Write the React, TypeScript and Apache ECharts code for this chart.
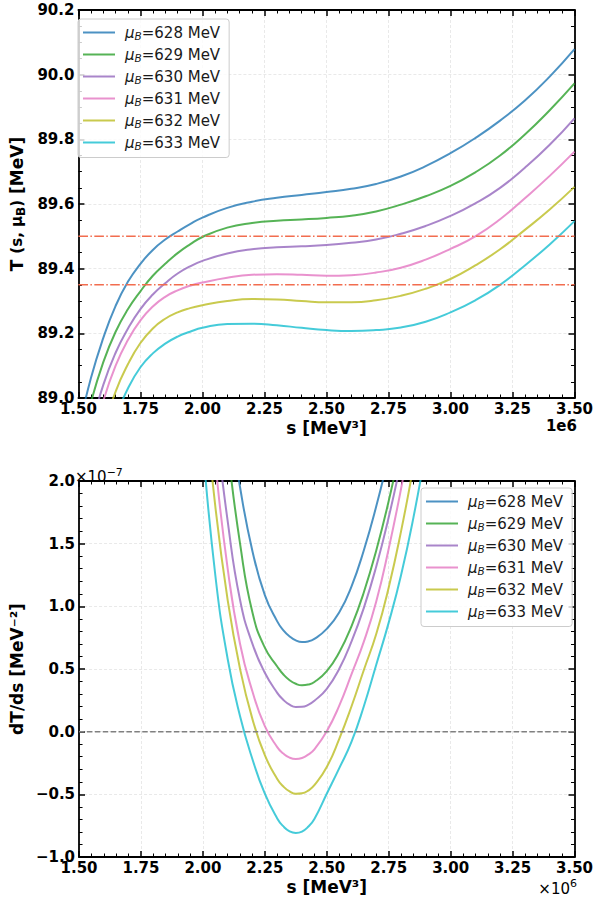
import React, { useEffect, useRef } from "react";
import * as echarts from "echarts";

// ---------- data ----------
const MU_B = [628, 629, 630, 631, 632, 633];

// s in units of 1e6 MeV^3
const S_T = [1.5, 1.55, 1.6, 1.65, 1.7, 1.75, 1.8, 1.85, 1.9, 1.95, 2.0, 2.1, 2.2, 2.3, 2.4, 2.5, 2.6, 2.7, 2.8, 2.9, 3.0, 3.1, 3.2, 3.3, 3.4, 3.5];
const T_628 = [88.9, 89.06, 89.185, 89.285, 89.36, 89.415, 89.458, 89.49, 89.515, 89.538, 89.558, 89.588, 89.607, 89.619, 89.628, 89.637, 89.647, 89.662, 89.685, 89.717, 89.757, 89.804, 89.858, 89.92, 89.994, 90.079];
const T_629 = [88.82, 88.985, 89.11, 89.205, 89.275, 89.33, 89.378, 89.415, 89.448, 89.475, 89.498, 89.527, 89.541, 89.548, 89.552, 89.557, 89.564, 89.577, 89.598, 89.624, 89.656, 89.698, 89.75, 89.815, 89.89, 89.973];
const T_630 = [88.76, 88.905, 89.04, 89.14, 89.215, 89.275, 89.32, 89.355, 89.385, 89.407, 89.424, 89.447, 89.46, 89.466, 89.469, 89.473, 89.48, 89.49, 89.508, 89.532, 89.563, 89.602, 89.65, 89.712, 89.783, 89.865];
const T_631 = [88.68, 88.845, 88.99, 89.1, 89.18, 89.24, 89.283, 89.313, 89.333, 89.347, 89.357, 89.372, 89.381, 89.383, 89.381, 89.378, 89.38, 89.388, 89.403, 89.428, 89.461, 89.5, 89.553, 89.618, 89.687, 89.762];
const T_632 = [88.58, 88.76, 88.9, 89.02, 89.105, 89.17, 89.215, 89.245, 89.265, 89.278, 89.287, 89.3, 89.306, 89.305, 89.3, 89.296, 89.296, 89.302, 89.316, 89.338, 89.368, 89.41, 89.46, 89.52, 89.583, 89.653];
const T_633 = [88.5, 88.69, 88.83, 88.94, 89.03, 89.095, 89.138, 89.168, 89.19, 89.205, 89.217, 89.229, 89.23, 89.225, 89.217, 89.21, 89.207, 89.21, 89.218, 89.236, 89.265, 89.302, 89.35, 89.41, 89.475, 89.547];
const T_SERIES = [T_628, T_629, T_630, T_631, T_632, T_633];
const T_LEVELS = [89.5, 89.35];

// dT/ds in units of 1e-7 MeV^-2
const S_D = [2.0, 2.05, 2.1, 2.15, 2.2, 2.25, 2.3, 2.325, 2.35, 2.375, 2.4, 2.425, 2.45, 2.5, 2.55, 2.6, 2.65, 2.7, 2.75, 2.8, 2.85, 2.9, 2.95];
const D_628 = [4.0, 3.3, 2.6, 1.95, 1.44, 1.09, 0.88, 0.809, 0.76, 0.728, 0.715, 0.72, 0.74, 0.82, 0.95, 1.16, 1.45, 1.8, 2.2, 2.63, 3.1, 3.6, 4.1];
const D_629 = [3.9, 3.05, 2.25, 1.5, 0.95, 0.67, 0.52, 0.456, 0.41, 0.382, 0.37, 0.376, 0.396, 0.483, 0.632, 0.843, 1.114, 1.448, 1.84, 2.3, 2.82, 3.4, 4.0];
const D_630 = [3.5, 2.5, 1.68, 1.05, 0.7, 0.47, 0.31, 0.253, 0.215, 0.197, 0.198, 0.214, 0.247, 0.342, 0.5, 0.72, 0.99, 1.32, 1.71, 2.16, 2.65, 3.15, 3.7];
const D_631 = [3.2, 2.15, 1.3, 0.7, 0.32, 0.044, -0.123, -0.175, -0.207, -0.218, -0.21, -0.183, -0.141, 0.003, 0.206, 0.459, 0.72, 1.04, 1.46, 1.94, 2.48, 3.08, 3.7];
const D_632 = [2.8, 1.8, 1.05, 0.5, 0.1, -0.188, -0.377, -0.438, -0.477, -0.496, -0.492, -0.47, -0.427, -0.282, -0.059, 0.203, 0.494, 0.781, 1.15, 1.6, 2.12, 2.68, 3.3];
const D_633 = [2.28, 1.25, 0.58, 0.123, -0.22, -0.495, -0.692, -0.756, -0.795, -0.808, -0.797, -0.759, -0.696, -0.495, -0.293, -0.08, 0.205, 0.536, 0.87, 1.25, 1.71, 2.25, 2.88];
const D_SERIES = [D_628, D_629, D_630, D_631, D_632, D_633];
const D_ZERO = 0;

const X_MIN = 1.5;
const X_MAX = 3.5;
const X_STEP = 0.25;
const T_MIN = 89.0;
const T_MAX = 90.2;
const T_STEP = 0.2;
const D_MIN = -1.0;
const D_MAX = 2.0;
const D_STEP = 0.5;

// ---------- styles ----------
const COLORS = [
  "rgba(31,119,180,0.8)",
  "rgba(44,160,44,0.8)",
  "rgba(148,103,189,0.8)",
  "rgba(227,119,194,0.8)",
  "rgba(188,189,34,0.8)",
  "rgba(23,190,207,0.8)",
];
const FONT = "DejaVu Sans";

const frameLine = { show: true, onZero: false, lineStyle: { color: "#000", width: 1.8 } };
const majorTick = { show: true, inside: true, length: 6, lineStyle: { color: "#000", width: 1.5 } };
const minorTick = (n: number) => ({ show: true, splitNumber: n, length: 3.5, lineStyle: { color: "#000", width: 1 } });
const gridLine = { show: true, lineStyle: { color: "#e3e3e3", width: 0.8, type: [3, 2] } };
const tickLabel = (fmt: (v: number) => string, margin: number) => ({
  show: true,
  margin,
  formatter: fmt,
  fontFamily: FONT,
  fontWeight: "bold",
  fontSize: 15,
  color: "#000",
});
const nameStyle = { fontFamily: FONT, fontWeight: "bold", fontSize: 17, color: "#000" };

const fmtMinus = (v: number, d: number) => {
  const s = Math.abs(v).toFixed(d);
  return v < -1e-9 ? "\u2212" + s : s;
};

const legendRich = {
  mu: { fontFamily: FONT, fontSize: 15, fontStyle: "italic", color: "#1a1a1a", lineHeight: 18, padding: [0, 0, 0, 5] },
  sub: { fontFamily: FONT, fontSize: 10.5, fontStyle: "italic", color: "#1a1a1a", lineHeight: 11, verticalAlign: "bottom" },
  t: { fontFamily: FONT, fontSize: 15, color: "#1a1a1a", lineHeight: 18 },
};

const makeLegend = (left: number, top: number) => ({
  show: true,
  orient: "vertical",
  left,
  top,
  data: MU_B.map(String),
  icon: "rect",
  itemWidth: 32,
  itemHeight: 2,
  itemGap: 5.5,
  padding: [6, 9, 6, 5],
  backgroundColor: "rgba(255,255,255,0.8)",
  borderColor: "#cccccc",
  borderWidth: 1,
  borderRadius: 3,
  selectedMode: false,
  formatter: (name: string) => `{mu|μ}{sub|B}{t|=${name} MeV}`,
  textStyle: { rich: legendRich },
});

export default function App() {
  const ref = useRef<HTMLDivElement>(null);

  useEffect(() => {
    if (!ref.current) return;
    const chart = echarts.init(ref.current, undefined, { renderer: "svg" });

    const topCurves = T_SERIES.map((vals, i) => ({
      type: "line",
      name: String(MU_B[i]),
      xAxisIndex: 0,
      yAxisIndex: 0,
      data: S_T.map((s, j) => [s, vals[j]]),
      symbol: "none",
      showSymbol: false,
      smooth: 0.5,
      lineStyle: { color: COLORS[i], width: 2 },
      itemStyle: { color: COLORS[i] },
      z: 3,
    }));
    const levelLines = T_LEVELS.map((lv) => ({
      type: "line",
      name: "level" + lv,
      xAxisIndex: 0,
      yAxisIndex: 0,
      data: [[X_MIN, lv], [X_MAX, lv]],
      symbol: "none",
      showSymbol: false,
      silent: true,
      lineStyle: { color: "#f26d4f", width: 1.5, type: [9.6, 2.4, 1.5, 2.4] },
      z: 4,
    }));
    const botCurves = D_SERIES.map((vals, i) => ({
      type: "line",
      name: String(MU_B[i]),
      xAxisIndex: 2,
      yAxisIndex: 2,
      data: S_D.map((s, j) => [s, vals[j]]),
      symbol: "none",
      showSymbol: false,
      smooth: 0.5,
      clip: true,
      lineStyle: { color: COLORS[i], width: 2 },
      itemStyle: { color: COLORS[i] },
      z: 3,
    }));
    const zeroLine = {
      type: "line",
      name: "zero",
      xAxisIndex: 2,
      yAxisIndex: 2,
      data: [[X_MIN, D_ZERO], [X_MAX, D_ZERO]],
      symbol: "none",
      showSymbol: false,
      silent: true,
      lineStyle: { color: "#808080", width: 1.5, type: [5.5, 2.4] },
      z: 4,
    };

    const xMain = (grid: number, margin: number) => ({
      type: "value",
      gridIndex: grid,
      min: X_MIN,
      max: X_MAX,
      interval: X_STEP,
      position: "bottom",
      axisLine: frameLine,
      axisTick: majorTick,
      minorTick: minorTick(5),
      axisLabel: tickLabel((v: number) => v.toFixed(2), margin),
      splitLine: gridLine,
      name: "s [MeV³]",
      nameLocation: "middle",
      nameGap: 21,
      nameTextStyle: nameStyle,
    });
    const xTwin = (grid: number) => ({
      type: "value",
      gridIndex: grid,
      min: X_MIN,
      max: X_MAX,
      interval: X_STEP,
      position: "top",
      axisLine: frameLine,
      axisTick: majorTick,
      minorTick: minorTick(5),
      axisLabel: { show: false },
      splitLine: { show: false },
    });
    const yTwin = (grid: number, min: number, max: number, step: number, n: number) => ({
      type: "value",
      gridIndex: grid,
      min,
      max,
      interval: step,
      position: "right",
      axisLine: frameLine,
      axisTick: majorTick,
      minorTick: minorTick(n),
      axisLabel: { show: false },
      splitLine: { show: false },
    });

    const option = {
      animation: false,
      backgroundColor: "#ffffff",
      textStyle: { fontFamily: FONT },
      grid: [
        { left: 70, top: 10, width: 507, height: 388 },
        { left: 73, top: 481, width: 504, height: 376 },
      ],
      xAxis: [xMain(0, 3), xTwin(0), xMain(1, 3), xTwin(1)],
      yAxis: [
        {
          type: "value",
          gridIndex: 0,
          min: T_MIN,
          max: T_MAX,
          interval: T_STEP,
          position: "left",
          axisLine: frameLine,
          axisTick: majorTick,
          minorTick: minorTick(4),
          axisLabel: tickLabel((v: number) => v.toFixed(1), 4),
          splitLine: gridLine,
          name: "{b|T }{m|(s, μ}{s|B}{m|)}{b| [MeV]}",
          nameLocation: "middle",
          nameRotate: 90,
          nameGap: 47,
          nameTextStyle: {
            ...nameStyle,
            rich: {
              b: { fontFamily: FONT, fontWeight: "bold", fontSize: 17, color: "#000", lineHeight: 20 },
              m: { fontFamily: FONT, fontWeight: "bold", fontSize: 15, color: "#000", lineHeight: 20 },
              s: { fontFamily: FONT, fontWeight: "bold", fontSize: 12, color: "#000", lineHeight: 13, verticalAlign: "bottom" },
            },
          },
        },
        yTwin(0, T_MIN, T_MAX, T_STEP, 4),
        {
          type: "value",
          gridIndex: 1,
          min: D_MIN,
          max: D_MAX,
          interval: D_STEP,
          position: "left",
          axisLine: frameLine,
          axisTick: majorTick,
          minorTick: minorTick(5),
          axisLabel: tickLabel((v: number) => fmtMinus(v, 1), 4),
          splitLine: gridLine,
          name: "dT/ds [MeV⁻²]",
          nameLocation: "middle",
          nameRotate: 90,
          nameGap: 48,
          nameTextStyle: nameStyle,
        },
        yTwin(1, D_MIN, D_MAX, D_STEP, 5),
      ],
      legend: [makeLegend(78, 19), makeLegend(421, 488)],
      series: [...topCurves, ...levelLines, ...botCurves, zeroLine],
      graphic: [
        {
          type: "text",
          x: 577,
          y: 418,
          style: { text: "1e6", font: `bold 15px "${FONT}"`, fill: "#000", align: "right", verticalAlign: "top" },
        },
        {
          type: "text",
          x: 75,
          y: 477,
          style: {
            text: "{a|×10}{b|−7}",
            align: "left",
            verticalAlign: "middle",
            rich: {
              a: { fontFamily: FONT, fontSize: 15, fill: "#000", lineHeight: 20 },
              b: { fontFamily: FONT, fontSize: 11, fill: "#000", lineHeight: 11, verticalAlign: "top" },
            },
          },
        },
        {
          type: "text",
          x: 577,
          y: 889,
          style: {
            text: "{a|×10}{b|6}",
            align: "right",
            verticalAlign: "middle",
            rich: {
              a: { fontFamily: FONT, fontSize: 15, fill: "#000", lineHeight: 22 },
              b: { fontFamily: FONT, fontSize: 11, fill: "#000", lineHeight: 9, verticalAlign: "top" },
            },
          },
        },
      ],
    };

    chart.setOption(option as any);
    return () => chart.dispose();
  }, []);

  return (
    <div
      ref={ref}
      style={{ position: "absolute", left: 0, top: 0, width: 596, height: 905, background: "#fff" }}
    />
  );
}
